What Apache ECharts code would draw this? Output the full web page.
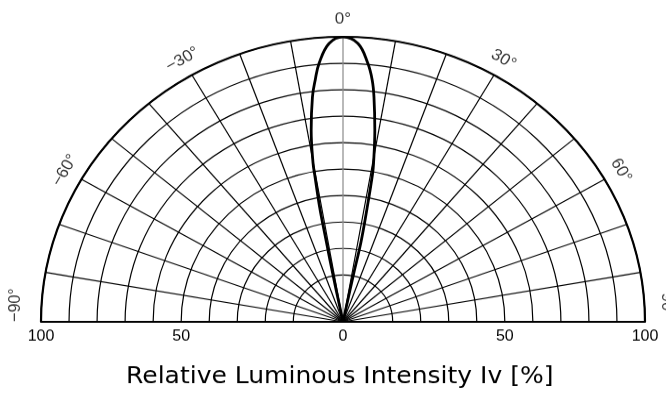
<!DOCTYPE html>
<html>
<head>
<meta charset="utf-8">
<script src="https://cdn.jsdelivr.net/npm/echarts@6/dist/echarts.min.js"></script>
<style>
    html, body { margin: 0; padding: 0; background: #fff; overflow: hidden; }
    #box { width: 666px; height: 394px; overflow: hidden; }
    /* the source picture is squashed: half circle is 302 px wide but only 285 px high */
    #chart { width: 666px; height: 418px; transform: scaleY(0.9437); transform-origin: 0 0; }
</style>
</head>
<body>
<div id="box"><div id="chart"></div></div>
<script>
    // radiation pattern, left to right (deg / %)
    var angleDeg  = [-12.0, -11.4, -11.1, -10.9, -10.3, -10.1, -8.9, -7.3, -6.2, -5.0, -2.7, 0, 2.9, 5.2, 6.5, 7.4, 8.9, 10.3, 10.7, 11.3, 12.0, 11.8, 12.0];
    var intensity = [0, 16.7, 28.6, 40.6, 52.3, 56.6, 68.1, 79.6, 85.3, 91.0, 97.8, 100, 97.8, 91.0, 85.4, 79.6, 68.1, 56.6, 52.4, 40.7, 28.7, 16.7, 0];

    var angleLabels = [-90, -60, -30, 0, 30, 60, 90];
    var centreLabels = [0];
    var ringLabels = [50, 100];
    var titleText = 'Relative Luminous Intensity Iv [%]';

    var cx = 343, cy = 341, R = 302, R0 = 49.7;   // R0 = innermost ring
    var tickFont = 'Liberation Sans, Arial, sans-serif';

    // spokes every 10 deg, the 0 deg one is grey
    var spokeColors = [];
    for (var a = -90; a <= 90; a += 10) {
        spokeColors.push(a === 0 ? '#8a8a8a' : '#000');
    }

    function only(list) {
        return function (v) { return list.indexOf(v) >= 0 ? String(v) : ''; };
    }

    function degText(a) {
        return (a < 0 ? '\u2212' + (-a) : String(a)) + '\u00b0';
    }

    // where an angle label sits (radius %, angle); the 90 deg ones sit just above the base line
    function labelPos(a) {
        if (a === -90) return [108.8, -86.9];
        if (a === 90) return [107.3, 86.9];
        return [106.3, a];
    }

    var tickLabel = { fontSize: 16, color: '#000', fontFamily: tickFont };
    var hidden = { show: false };
    var thick = { lineStyle: { color: '#000', width: 2.2 } };

    var chart = echarts.init(document.getElementById('chart'));
    chart.setOption({
        animation: false,
        title: {
            text: titleText,
            left: 126,
            top: 387,
            padding: 0,
            textStyle: { fontFamily: 'DejaVu Sans', fontSize: 25, fontWeight: 'normal', color: '#000' }
        },
        polar: [
            { center: [cx, cy], radius: R },          // data, spokes, left base line
            { center: [cx, cy], radius: [R0, R] },    // rings + left labels
            { center: [cx, cy], radius: [R0, R] },    // right labels
            { center: [cx, cy], radius: R }           // right base line
        ],
        angleAxis: [
            {
                polarIndex: 0, type: 'value', min: -90, max: 90, interval: 10,
                startAngle: 180, endAngle: 0, clockwise: true,
                axisLine: thick,
                axisTick: hidden,
                axisLabel: hidden,
                splitLine: { show: true, lineStyle: { color: spokeColors, width: 1.2 } }
            },
            { polarIndex: 1, type: 'value', min: -90, max: 90, startAngle: 180, endAngle: 0, clockwise: true, show: false },
            { polarIndex: 2, type: 'value', min: -90, max: 90, startAngle: 0, endAngle: 180, clockwise: false, show: false },
            { polarIndex: 3, type: 'value', min: -90, max: 90, startAngle: 0, endAngle: 180, clockwise: false, show: false }
        ],
        radiusAxis: [
            {
                polarIndex: 0, type: 'value', min: 0, max: 100, interval: 50,
                axisLine: thick, axisTick: hidden, splitLine: hidden,
                axisLabel: Object.assign({ formatter: only(centreLabels), margin: 8 }, tickLabel)
            },
            {
                polarIndex: 1, type: 'value', min: 10, max: 100, interval: 10,
                axisLine: hidden, axisTick: hidden,
                splitLine: { show: true, lineStyle: { color: '#000', width: 1.2 } },
                axisLabel: Object.assign({ formatter: only(ringLabels), margin: 8 }, tickLabel)
            },
            {
                polarIndex: 2, type: 'value', min: 10, max: 100, interval: 10,
                axisLine: hidden, axisTick: hidden, splitLine: hidden,
                axisLabel: Object.assign({ formatter: only(ringLabels), margin: -8, verticalAlign: 'top' }, tickLabel)
            },
            {
                polarIndex: 3, type: 'value', min: 0, max: 100,
                axisLine: thick, axisTick: hidden, splitLine: hidden, axisLabel: hidden
            }
        ],
        series: [
            {
                type: 'line',
                coordinateSystem: 'polar',
                polarIndex: 0,
                data: intensity.map(function (r, i) { return [r, angleDeg[i]]; }),
                smooth: 0.4,
                symbol: 'none',
                silent: true,
                z: 5,
                lineStyle: { color: '#000', width: 2.8 }
            },
            {
                // angle labels round the outside of the arc
                type: 'scatter',
                coordinateSystem: 'polar',
                polarIndex: 0,
                clip: false,
                silent: true,
                symbolSize: 1,
                itemStyle: { color: 'transparent' },
                data: angleLabels.map(function (a) {
                    return { value: labelPos(a), label: { rotate: -a } };
                }),
                label: {
                    show: true,
                    position: 'inside',
                    formatter: function (p) { return degText(angleLabels[p.dataIndex]); },
                    fontSize: 17,
                    color: '#000',
                    fontFamily: tickFont
                }
            }
        ]
    });
</script>
</body>
</html>
